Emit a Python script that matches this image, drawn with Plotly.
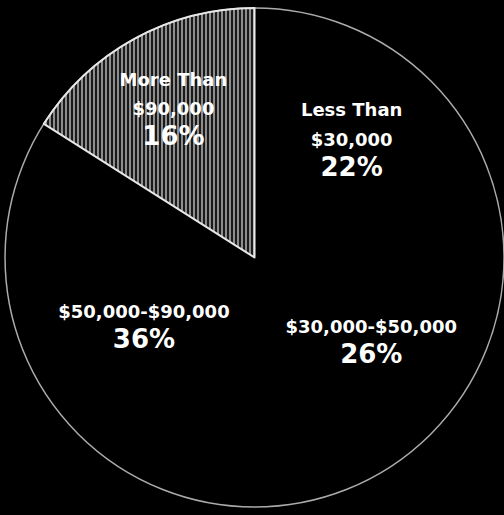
import plotly.graph_objects as go

categories = ["Less Than $30,000", "$30,000-$50,000", "$50,000-$90,000", "More Than $90,000"]
display_labels = ["Less Than<br>$30,000", "$30,000-$50,000", "$50,000-$90,000", "More Than<br>$90,000"]
values = [22, 26, 36, 16]

slice_colors = ["#000000", "#000000", "#000000", "#000000"]
pattern_shapes = ["", "", "", "|"]
line_colors = ["#000000", "#000000", "#000000", "#e8e8e8"]

fig = go.Figure()
fig.add_trace(go.Pie(
    labels=categories,
    values=values,
    text=display_labels,
    sort=False,
    direction="clockwise",
    rotation=0,
    domain=dict(x=[0.01, 1.0], y=[0.0, 1.0]),
    marker=dict(
        colors=slice_colors,
        line=dict(color=line_colors, width=2),
        pattern=dict(shape=pattern_shapes, fgcolor="#9a9a9a", bgcolor="#1a1a1a",
                     size=4, solidity=0.45),
    ),
    texttemplate="<span style='font-size:18px'><b>%{text}</b></span><br><span style='font-size:26px'><b>%{value}%</b></span>",
    textposition="inside",
    insidetextorientation="horizontal",
    textfont=dict(family="DejaVu Sans", size=23, color="white"),
    hoverinfo="none",
    showlegend=False,
))
fig.add_trace(go.Pie(
    values=[1],
    labels=["outline"],
    sort=False,
    domain=dict(x=[0.01, 1.0], y=[0.0, 1.0]),
    marker=dict(colors=["rgba(0,0,0,0)"], line=dict(color="rgba(230,230,230,0.75)", width=1.5)),
    textinfo="none",
    hoverinfo="none",
    showlegend=False,
))
fig.update_layout(
    width=504, height=515,
    margin=dict(l=0, r=0, t=0, b=0),
    paper_bgcolor="#000000",
    plot_bgcolor="#000000",
)
fig.write_html("out.html")
